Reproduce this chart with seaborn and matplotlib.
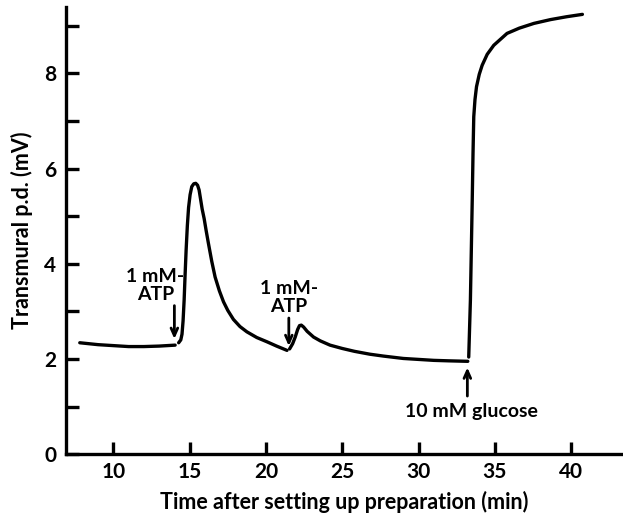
import matplotlib
matplotlib.use("Agg")
import matplotlib.pyplot as plt
import numpy as np
import pandas as pd
import seaborn as sns

# Trace of transmural potential difference, split where additions were made
baseline_t = [7.8, 9.0, 10.0, 11.0, 12.0, 13.0, 14.05]
baseline_v = [2.34, 2.30, 2.28, 2.26, 2.26, 2.27, 2.29]

atp1_t = [14.28, 14.42, 14.50, 14.57, 14.64, 14.70, 14.77, 14.85, 14.93, 15.03,
          15.14, 15.27, 15.40, 15.52, 15.62, 15.72, 15.82, 15.95, 16.08, 16.23,
          16.45, 16.67, 16.95, 17.22, 17.50, 17.87, 18.30, 18.75, 19.40, 20.07,
          20.70, 21.38]
atp1_v = [2.34, 2.40, 2.52, 2.80, 3.24, 3.75, 4.29, 4.80, 5.18, 5.45,
          5.62, 5.68, 5.69, 5.65, 5.55, 5.35, 5.15, 4.95, 4.70, 4.43,
          4.05, 3.72, 3.43, 3.20, 3.02, 2.83, 2.68, 2.57, 2.45, 2.36,
          2.27, 2.18]

atp2_t = [21.55, 21.75, 21.92, 22.08, 22.20, 22.32, 22.47, 22.70, 23.12, 23.56,
          24.20, 25.00, 25.80, 26.80, 27.70, 29.00, 30.00, 31.00, 32.00, 33.23]
atp2_v = [2.21, 2.32, 2.46, 2.62, 2.70, 2.71, 2.67, 2.58, 2.46, 2.38,
          2.29, 2.22, 2.16, 2.10, 2.06, 2.01, 1.99, 1.97, 1.96, 1.95]

glucose_t = [33.29, 33.40, 33.52, 33.57, 33.62, 33.70, 33.80, 33.98, 34.17, 34.50,
             34.93, 35.80, 36.60, 37.56, 38.65, 39.70, 40.74]
glucose_v = [2.04, 3.24, 5.34, 6.30, 7.09, 7.45, 7.72, 7.98, 8.17, 8.40,
             8.59, 8.84, 8.95, 9.05, 9.13, 9.19, 9.24]

# Addition markers: (time, arrow tail value, arrow head value, label)
addition_t = [14.0, 21.5, 33.2]
addition_tail = [3.12, 2.86, 1.22]
addition_head = [2.42, 2.27, 1.82]
addition_labels = ["1 mM-\nATP", "1 mM-\nATP", "10 mM glucose"]

x_ticks = [10, 15, 20, 25, 30, 35, 40]
y_ticks = [0, 1, 2, 3, 4, 5, 6, 7, 8, 9]
y_ticklabels = ["0", "", "2", "", "4", "", "6", "", "8", ""]

segments = [
    (baseline_t, baseline_v, "baseline"),
    (atp1_t, atp1_v, "ATP 1"),
    (atp2_t, atp2_v, "ATP 2"),
    (glucose_t, glucose_v, "glucose"),
]
trace = pd.concat(
    [pd.DataFrame({"time": t, "pd": v, "segment": s}) for t, v, s in segments],
    ignore_index=True,
)

sns.set_theme(style="ticks")
plt.rcParams["font.family"] = ["Lato", "DejaVu Sans"]
plt.rcParams["font.weight"] = "bold"
plt.rcParams["text.color"] = "black"
plt.rcParams["axes.labelcolor"] = "black"
plt.rcParams["xtick.color"] = "black"
plt.rcParams["ytick.color"] = "black"

fig = plt.figure(figsize=(6.23, 5.19), dpi=100)
ax = fig.add_axes([0.106, 0.125, 0.894, 0.862])

sns.lineplot(data=trace, x="time", y="pd", units="segment", estimator=None,
             sort=False, color="black", linewidth=2.4, ax=ax)

for t, tail, head in zip(addition_t, addition_tail, addition_head):
    ax.annotate("", xy=(t, head), xytext=(t, tail),
                arrowprops=dict(arrowstyle="->,head_length=0.45,head_width=0.2",
                                color="black", lw=2.0, shrinkA=0, shrinkB=0))

ax.text(addition_t[0] - 1.25, 3.18, addition_labels[0], ha="center", va="bottom",
        fontsize=14, fontweight="bold", linespacing=1.05, color="black")
ax.text(addition_t[1], 2.92, addition_labels[1], ha="center", va="bottom",
        fontsize=14, fontweight="bold", linespacing=1.05, color="black")
ax.text(addition_t[2] + 0.3, 0.9, addition_labels[2], ha="center", va="center",
        fontsize=14, fontweight="bold", color="black")

ax.set_xlim(6.9, 43.4)
ax.set_ylim(0, 9.4)
ax.set_xticks(x_ticks)
ax.set_yticks(y_ticks)
ax.set_yticklabels(y_ticklabels)

sns.despine(ax=ax)
for side in ("left", "bottom"):
    ax.spines[side].set_linewidth(2.4)
    ax.spines[side].set_color("black")
ax.tick_params(axis="both", direction="in", length=9, width=2.4, colors="black",
               labelcolor="black", labelsize=15)
ax.tick_params(axis="x", pad=6)
ax.tick_params(axis="y", pad=7)
for lbl in ax.get_xticklabels() + ax.get_yticklabels():
    lbl.set_fontweight("bold")

ax.set_xlabel("Time after setting up preparation (min)", fontsize=15.5,
              fontweight="bold", labelpad=6, color="black")
ax.set_ylabel("Transmural p.d. (mV)", fontsize=15.5, fontweight="bold",
              labelpad=8, color="black")

fig.savefig("out.png", dpi=100, facecolor="white")
